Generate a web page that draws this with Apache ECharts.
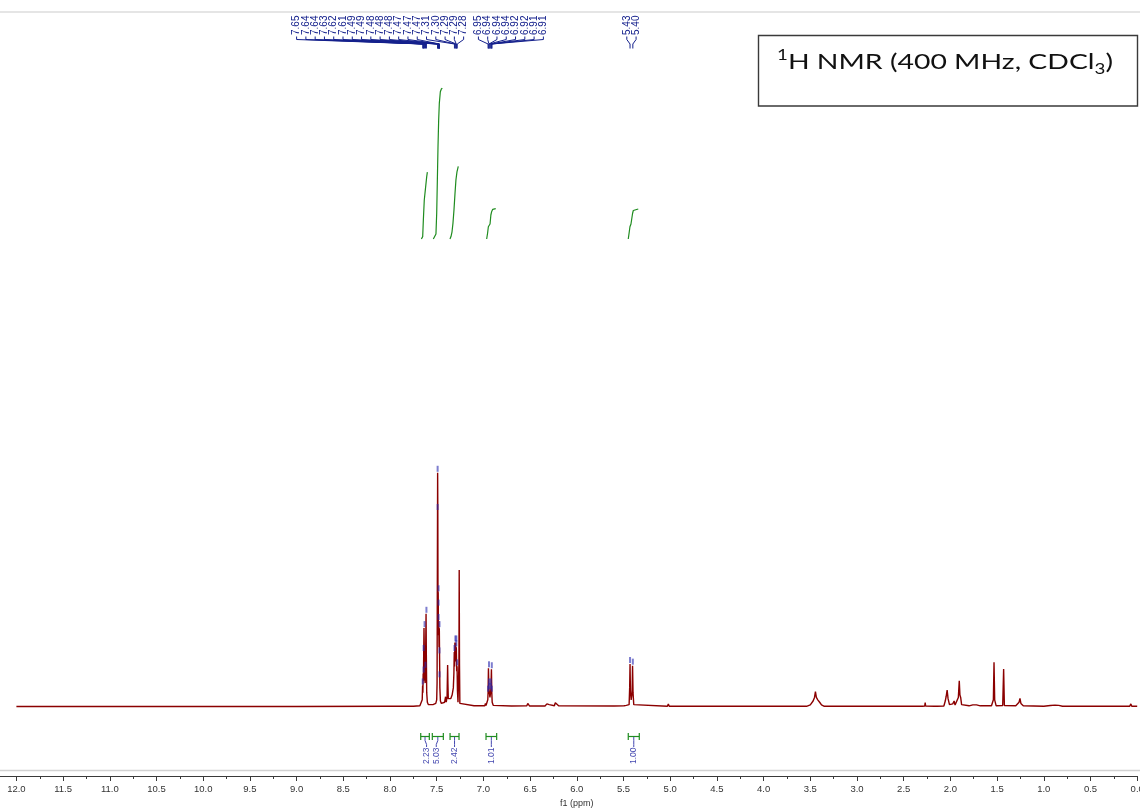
<!DOCTYPE html>
<html><head><meta charset="utf-8">
<script src="https://cdn.jsdelivr.net/npm/echarts@6/dist/echarts.min.js"></script>
<style>html,body{margin:0;padding:0;background:#fff}#c{width:1140px;height:808px}</style>
</head><body><div id="c"></div>
<script>
// ---------------- DATA ----------------
const ppmAxis = { min: 0, max: 12, step: 0.5 };

// spectrum [ppm, relative intensity]
const spectrum = [
[12.0,0.2],[11.0,0.2],[10.0,0.25],[9.0,0.2],[8.0,0.3],[7.75,0.3],[7.68,0.5],
[7.662,1],[7.655,3],[7.651,9],[7.648,6],[7.645,14],[7.642,11],[7.639,23],[7.636,33],[7.632,22],[7.628,12],[7.624,10],[7.621,16],[7.618,24],[7.614,39],[7.611,22],[7.607,6],[7.600,2],[7.590,1],[7.570,0.8],[7.540,1],[7.510,1.5],
[7.500,3],[7.496,10],[7.493,55],[7.490,98],[7.488,82],[7.486,42],[7.484,48],[7.481,30],[7.478,36],[7.475,25],[7.472,33],[7.469,20],[7.466,8],[7.460,2.5],[7.450,1.5],[7.430,1.2],
[7.415,2],[7.405,4.3],[7.398,2],[7.389,4],[7.386,11],[7.383,17.6],[7.380,10],[7.376,3.5],[7.365,3],[7.350,3.5],[7.335,5],[7.322,8],[7.316,14],[7.312,23],[7.309,17],[7.305,27],[7.301,20],[7.297,27],[7.293,19],[7.290,25],[7.286,15],[7.282,17],[7.278,7],[7.272,2],[7.266,1.5],
[7.262,18],[7.259,57.3],[7.256,18],[7.252,1.5],[7.240,0.8],[7.100,0.5],
[6.985,0.5],[6.978,1.5],[6.972,0.6],[6.960,1],[6.953,3],[6.950,6],[6.946,16.2],[6.942,9],[6.939,7],[6.930,4],[6.923,6],[6.919,8],[6.914,15.8],[6.910,6],[6.906,2],[6.895,0.7],
[6.700,0.4],[6.535,0.5],[6.525,1.5],[6.520,0.8],[6.515,1.4],[6.505,0.4],[6.340,0.4],[6.330,1.2],[6.320,1.3],[6.305,0.6],[6.295,1.0],[6.285,0.4],[6.240,0.5],[6.230,1.8],[6.220,1.0],[6.210,2.0],[6.195,0.5],
[5.600,0.4],[5.495,0.5],[5.485,0.9],[5.470,0.7],[5.455,0.4],[5.440,1],[5.434,8],[5.430,18],[5.426,7],[5.418,3],[5.408,6],[5.403,17.3],[5.398,6],[5.390,1],[5.370,0.4],
[5.030,0.3],[5.020,1.2],[5.010,0.3],
[3.540,0.3],[3.500,0.9],[3.470,2.5],[3.455,4],[3.445,6.4],[3.435,4],[3.420,3],[3.400,2],[3.380,0.9],[3.350,0.3],
[2.300,0.3],[2.275,0.4],[2.270,1.8],[2.265,0.4],[2.170,0.3],[2.155,0.6],[2.140,0.3],
[2.070,0.4],[2.055,2.5],[2.045,4.5],[2.035,7.1],[2.025,3.5],[2.010,1],[1.990,0.8],[1.975,1.3],[1.960,2.5],[1.950,0.8],[1.930,1],[1.915,4],[1.905,11],[1.898,5],[1.890,4],[1.880,1],[1.870,0.4],
[1.800,0.5],[1.780,1.2],[1.760,0.9],[1.740,1.0],[1.720,0.9],[1.700,1.1],[1.680,0.5],
[1.560,0.5],[1.540,3],[1.533,18.7],[1.526,3],[1.510,0.5],[1.440,0.6],[1.430,15.9],[1.422,0.6],
[1.300,0.5],[1.280,1.2],[1.265,2],[1.255,3.6],[1.245,1.5],[1.235,1],[1.220,0.5],
[1.000,0.3],[0.930,0.6],[0.880,0.8],[0.840,0.7],[0.800,0.3],[0.080,0.3],[0.068,1.3],[0.058,0.3],[0.0,0.3]
];

// picked peaks (label ppm, intensity) – aromatic cluster
const peaksA = [7.65,7.64,7.64,7.63,7.62,7.61,7.49,7.49,7.48,7.48,7.48,7.47,7.47,7.47,7.31,7.30,7.29,7.29,7.28,6.95,6.94,6.94,6.94,6.92,6.92,6.91,6.91];
const peaksAHeight = [9,14,23,33,16,39,98,82,48,42,36,33,22,12,23,27,27,25,17,6,16.2,9,7,7,9,15.8,6];
// picked peaks – vinyl doublet
const peaksB = [5.43,5.40];
const peaksBHeight = [18,17.3];

// integrations
const integralRanges = [[7.671,7.579],[7.547,7.429],[7.357,7.261],[6.972,6.858],[5.449,5.331]];
const integralValues = [2.23,5.03,2.42,1.01,1.00];
const integralCurve1 = [[7.664,0],[7.650,0.08],[7.643,0.63],[7.633,1.3],[7.622,1.63],[7.607,2.08],[7.600,2.23]];
const integralCurve2 = [[7.536,0],[7.522,0.02],[7.508,0.17],[7.500,0.86],[7.493,1.97],[7.486,3.08],[7.479,3.97],[7.472,4.52],[7.461,4.91],[7.450,5.0],[7.440,5.03]];
const integralCurve3 = [[7.358,0],[7.347,0.08],[7.336,0.24],[7.326,0.52],[7.315,0.97],[7.304,1.52],[7.294,1.97],[7.283,2.24],[7.269,2.42]];
const integralCurve4 = [[6.965,0],[6.955,0.2],[6.947,0.41],[6.938,0.47],[6.929,0.5],[6.920,0.8],[6.911,0.92],[6.900,0.99],[6.885,1.0],[6.868,1.01]];
const integralCurve5 = [[5.449,0],[5.440,0.2],[5.431,0.41],[5.420,0.5],[5.413,0.55],[5.403,0.85],[5.395,0.95],[5.380,1.0],[5.342,1.0]];

// ---------------- STYLE / LAYOUT ----------------
const SPEC_COLOR = '#8b0000';
const TOP_COLOR = '#14208c';
const INT_GREEN = '#1f8c1f';
const INT_BLUE = '#4448b0';
const TOP_SPACING = 9.28, TOP_GROUP_GAP = 5.5, TOP_ANCHOR_PPM = 9.0;
const INT_SPACING = 9.7;

const chart = echarts.init(document.getElementById('c'), null, {renderer: 'canvas'});

function topLayout(api, ppms, anchorPpm) {
  const px = ppms.map(p => api.coord([p, 0])[0]);
  const xs = [];
  if (anchorPpm != null) {
    let x = api.coord([anchorPpm, 0])[0];
    for (let i = 0; i < ppms.length; i++) {
      if (i > 0) { x += TOP_SPACING; if (Math.abs(ppms[i] - ppms[i-1]) > 0.2) x += TOP_GROUP_GAP; }
      xs.push(x);
    }
  } else {
    const mean = px.reduce((a, b) => a + b, 0) / px.length;
    for (let i = 0; i < ppms.length; i++) xs.push(mean + (i - (ppms.length - 1) / 2) * TOP_SPACING);
  }
  return {px, xs};
}

function makeTopRender(ppms, anchorPpm) {
  return function (params, api) {
    const i = params.dataIndex;
    const L = topLayout(api, ppms, anchorPpm);
    const lx = L.xs[i], px = L.px[i];
    return {
      type: 'group',
      children: [
        {type: 'polyline', shape: {points: [[lx, 36.5], [lx, 39.5], [px, 44], [px, 48.5]]},
         style: {stroke: TOP_COLOR, fill: null, lineWidth: 1}},
        {type: 'text', x: lx, y: 35, rotation: Math.PI / 2,
         style: {text: ppms[i].toFixed(2), align: 'left', verticalAlign: 'middle', fill: TOP_COLOR,
                 font: '10px "Liberation Sans", Arial, sans-serif'}}
      ]
    };
  };
}

function intLayout(api) {
  const cs = integralRanges.map(r => (api.coord([r[0], 0])[0] + api.coord([r[1], 0])[0]) / 2);
  const clusters = [];
  cs.forEach((c, i) => {
    const last = clusters[clusters.length - 1];
    if (last && c - cs[last[last.length - 1]] < INT_SPACING * 1.6) last.push(i); else clusters.push([i]);
  });
  const xs = [];
  clusters.forEach(cl => {
    const mean = cl.reduce((a, k) => a + cs[k], 0) / cl.length;
    cl.forEach((k, j) => { xs[k] = mean + (j - (cl.length - 1) / 2) * INT_SPACING; });
  });
  return {cs, xs};
}

function intRender(params, api) {
  const i = params.dataIndex;
  const r = integralRanges[i];
  const x1 = api.coord([r[0], 0])[0], x2 = api.coord([r[1], 0])[0];
  const L = intLayout(api);
  const cx = L.cs[i], lx = L.xs[i];
  return {
    type: 'group',
    children: [
      {type: 'line', shape: {x1: x1, y1: 736.5, x2: x2, y2: 736.5}, style: {stroke: INT_GREEN, lineWidth: 1.2}},
      {type: 'line', shape: {x1: x1, y1: 733, x2: x1, y2: 740}, style: {stroke: INT_GREEN, lineWidth: 1.2}},
      {type: 'line', shape: {x1: x2, y1: 733, x2: x2, y2: 740}, style: {stroke: INT_GREEN, lineWidth: 1.2}},
      {type: 'polyline', shape: {points: [[cx, 737], [cx, 740.5], [lx, 744.5], [lx, 747]]},
       style: {stroke: INT_BLUE, fill: null, lineWidth: 1}},
      {type: 'text', x: lx, y: 764, rotation: Math.PI / 2,
       style: {text: integralValues[i].toFixed(2), align: 'left', verticalAlign: 'middle', fill: INT_BLUE,
               font: '8.5px "Liberation Sans", Arial, sans-serif'}}
    ]
  };
}

const lineCommon = {type: 'line', showSymbol: false, symbol: 'none', animation: false, silent: true};
const integralCurves = [integralCurve1, integralCurve2, integralCurve3, integralCurve4, integralCurve5];

const markerData = peaksA.map((p, i) => [p, peaksAHeight[i]]).concat(peaksB.map((p, i) => [p, peaksBHeight[i]]));

const option = {
  animation: false,
  backgroundColor: '#ffffff',
  grid: {left: 16.4, right: 2.8, top: 0, bottom: 32, containLabel: false, outerBoundsMode: 'none'},
  xAxis: {
    type: 'value', min: ppmAxis.min, max: ppmAxis.max, interval: ppmAxis.step, inverse: true,
    axisLine: {show: true, onZero: false, lineStyle: {color: '#3a3a3a', width: 1}},
    axisTick: {show: true, length: 5, lineStyle: {color: '#3a3a3a'}},
    minorTick: {show: true, splitNumber: 2, length: 3, lineStyle: {color: '#3a3a3a'}},
    splitLine: {show: false},
    axisLabel: {formatter: v => v.toFixed(1), fontSize: 9.5, color: '#333', margin: 8,
                fontFamily: '"Liberation Sans", Arial, sans-serif', showMinLabel: true, showMaxLabel: true, hideOverlap: false},
    name: 'f1 (ppm)', nameLocation: 'middle', nameGap: 21,
    nameTextStyle: {fontSize: 9, color: '#333', fontFamily: '"Liberation Sans", Arial, sans-serif'}
  },
  yAxis: [
    {type: 'value', min: -28.87, max: 295.82, show: false},
    {type: 'value', min: -17.9, max: 7.967, show: false}
  ],
  series: [
    Object.assign({}, lineCommon, {name: 'spectrum', data: spectrum, yAxisIndex: 0,
      lineStyle: {color: SPEC_COLOR, width: 1.4}, z: 3})
  ].concat(integralCurves.map((c, k) => Object.assign({}, lineCommon, {
      name: 'integral' + (k + 1), data: c, yAxisIndex: 1, lineStyle: {color: INT_GREEN, width: 1.2}, z: 3}))
  ).concat([
    {type: 'scatter', name: 'peak markers', data: markerData, yAxisIndex: 0, symbol: 'rect',
     symbolSize: [2, 6], symbolOffset: [0, -4], itemStyle: {color: 'rgba(40,40,175,0.75)'}, silent: true, z: 4},
    {type: 'custom', name: 'labelsA', data: peaksA.map((p, i) => [p, peaksAHeight[i]]), encode: {x: 0, y: 1},
     renderItem: makeTopRender(peaksA, TOP_ANCHOR_PPM), clip: false, silent: true, z: 5},
    {type: 'custom', name: 'labelsB', data: peaksB.map((p, i) => [p, peaksBHeight[i]]), encode: {x: 0, y: 1},
     renderItem: makeTopRender(peaksB, null), clip: false, silent: true, z: 5},
    {type: 'custom', name: 'integrals', data: integralRanges.map((r, i) => [r[0], r[1], integralValues[i]]),
     encode: {x: [0, 1], y: 2}, renderItem: intRender, clip: false, silent: true, z: 5}
  ]),
  graphic: [
    {type: 'line', shape: {x1: 0, y1: 12, x2: 1140, y2: 12}, style: {stroke: '#dcdcdc', lineWidth: 1.5}, silent: true},
    {type: 'line', shape: {x1: 0, y1: 770.5, x2: 1140, y2: 770.5}, style: {stroke: '#d2d2d2', lineWidth: 1.5}, silent: true},
    {type: 'line', shape: {x1: 0, y1: 776.5, x2: 17, y2: 776.5}, style: {stroke: '#3a3a3a', lineWidth: 1}, silent: true},
    {type: 'rect', shape: {x: 758.5, y: 35.5, width: 379, height: 70.5},
     style: {fill: '#fff', stroke: '#3a3a3a', lineWidth: 1.4}, silent: true, z: 10},
    {type: 'text', x: 945, y: 62, scaleX: 1.29, scaleY: 1.0, z: 11, silent: true,
     style: {text: '{sup|1}{m|H NMR (400 MHz, CDCl}{sub|3}{m|)}', align: 'center', verticalAlign: 'middle',
             rich: {
               m: {fontSize: 22, fontFamily: 'Lato, "Open Sans", sans-serif', fill: '#111', lineHeight: 34},
               sup: {fontSize: 14.5, fontFamily: 'Lato, "Open Sans", sans-serif', fill: '#111', verticalAlign: 'top', lineHeight: 34, padding: [3, 0, 0, 0]},
               sub: {fontSize: 14.5, fontFamily: 'Lato, "Open Sans", sans-serif', fill: '#111', verticalAlign: 'bottom', lineHeight: 34, padding: [0, 0, 2, 0]}
             }}}
  ]
};
chart.setOption(option);
</script></body></html>
